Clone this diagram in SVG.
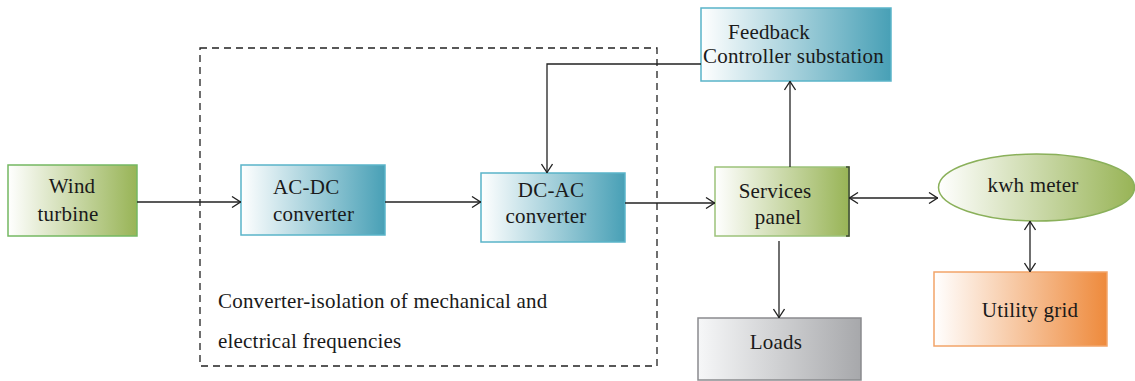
<svg xmlns="http://www.w3.org/2000/svg" width="1135" height="381" viewBox="0 0 1135 381">
  <style>
    .lbl { font-family: 'Liberation Serif', 'DejaVu Serif', 'Times New Roman', Times, serif; font-size: 21px; letter-spacing: 0.2px; fill: #1a1a1a; }
    .conn { fill: none; stroke: #222; stroke-width: 1.3; }
    .dash { fill: none; stroke: #222; stroke-width: 1.3; stroke-dasharray: 7 5; }
  </style>
  <defs>
    <linearGradient id="gGreen" x1="0" y1="0" x2="1" y2="0">
      <stop offset="0" stop-color="#ffffff"/>
      <stop offset="1" stop-color="#98b456"/>
    </linearGradient>
    <linearGradient id="gBlue" x1="0" y1="0" x2="1" y2="0">
      <stop offset="0" stop-color="#ffffff"/>
      <stop offset="1" stop-color="#48a0b6"/>
    </linearGradient>
    <linearGradient id="gOrange" x1="0" y1="0" x2="1" y2="0">
      <stop offset="0" stop-color="#ffffff"/>
      <stop offset="1" stop-color="#ee8a3c"/>
    </linearGradient>
    <linearGradient id="gGray" x1="0" y1="0" x2="1" y2="0">
      <stop offset="0" stop-color="#f6f7f8"/>
      <stop offset="1" stop-color="#a7a8ab"/>
    </linearGradient>
    <marker id="arr" viewBox="0 0 10 12" refX="10" refY="6" markerWidth="10" markerHeight="12" markerUnits="userSpaceOnUse" orient="auto-start-reverse">
      <path d="M1,0.5 L9.5,6 L1,11.5" fill="none" stroke="#222" stroke-width="1.3"/>
    </marker>
  </defs>

  <!-- converter enclosure -->
  <g id="converter-block">
    <rect class="dash" x="200" y="48" width="457" height="318"/>
    <text class="lbl" x="218" y="308">Converter-isolation of mechanical and</text>
    <text class="lbl" x="218" y="348">electrical frequencies</text>
  </g>

  <g id="wind-turbine">
    <rect x="8" y="165" width="129" height="71" fill="url(#gGreen)" stroke="#74b862" stroke-width="1.5"/>
    <text class="lbl" x="72" y="193" text-anchor="middle">Wind</text>
    <text class="lbl" x="68" y="221" text-anchor="middle">turbine</text>
  </g>

  <g id="ac-dc">
    <rect x="241" y="165" width="144" height="70" fill="url(#gBlue)" stroke="#5ab4c9" stroke-width="1.5"/>
    <text class="lbl" x="273" y="194">AC-DC</text>
    <text class="lbl" x="273" y="221">converter</text>
  </g>

  <g id="dc-ac">
    <rect x="481" y="173" width="144" height="69" fill="url(#gBlue)" stroke="#5ab4c9" stroke-width="1.5"/>
    <text class="lbl" x="551" y="197" text-anchor="middle">DC-AC</text>
    <text class="lbl" x="546" y="223" text-anchor="middle">converter</text>
  </g>

  <g id="feedback">
    <rect x="701" y="8" width="190" height="73" fill="url(#gBlue)" stroke="#5ab4c9" stroke-width="1.5"/>
    <text class="lbl" x="728" y="39">Feedback</text>
    <text class="lbl" x="703" y="63">Controller substation</text>
  </g>

  <g id="services-panel">
    <rect x="715" y="167" width="134" height="69" fill="url(#gGreen)" stroke="#9cc27a" stroke-width="1.5"/>
    <path d="M846,167 H849 V236 H846" fill="none" stroke="#3e4a30" stroke-width="1.5"/>
    <text class="lbl" x="775" y="198" text-anchor="middle">Services</text>
    <text class="lbl" x="778" y="224" text-anchor="middle">panel</text>
  </g>

  <g id="kwh-meter">
    <ellipse cx="1036.5" cy="187.5" rx="98" ry="33.5" fill="url(#gGreen)" stroke="#8ab05a" stroke-width="1.5"/>
    <text class="lbl" x="1033" y="192" text-anchor="middle">kwh meter</text>
  </g>

  <g id="utility-grid">
    <rect x="934" y="272" width="173" height="74" fill="url(#gOrange)" stroke="#f2a468" stroke-width="1.5"/>
    <text class="lbl" x="1030" y="317" text-anchor="middle">Utility grid</text>
  </g>

  <g id="loads">
    <rect x="698" y="318" width="163" height="62" fill="url(#gGray)" stroke="#8a8b8e" stroke-width="1.5"/>
    <text class="lbl" x="776" y="349" text-anchor="middle">Loads</text>
  </g>

  <g id="connectors">
    <line class="conn" x1="137" y1="202" x2="241" y2="202" marker-end="url(#arr)"/>
    <line class="conn" x1="385" y1="202" x2="481" y2="202" marker-end="url(#arr)"/>
    <line class="conn" x1="625" y1="203" x2="715" y2="203" marker-end="url(#arr)"/>
    <polyline class="conn" points="701,64 547,64 547,173" marker-end="url(#arr)"/>
    <line class="conn" x1="790" y1="167" x2="790" y2="81" marker-end="url(#arr)"/>
    <line class="conn" x1="849" y1="198" x2="938" y2="198" marker-start="url(#arr)" marker-end="url(#arr)"/>
    <line class="conn" x1="1030" y1="221" x2="1030" y2="272" marker-start="url(#arr)" marker-end="url(#arr)"/>
    <line class="conn" x1="779" y1="241" x2="779" y2="318" marker-end="url(#arr)"/>
  </g>
</svg>
